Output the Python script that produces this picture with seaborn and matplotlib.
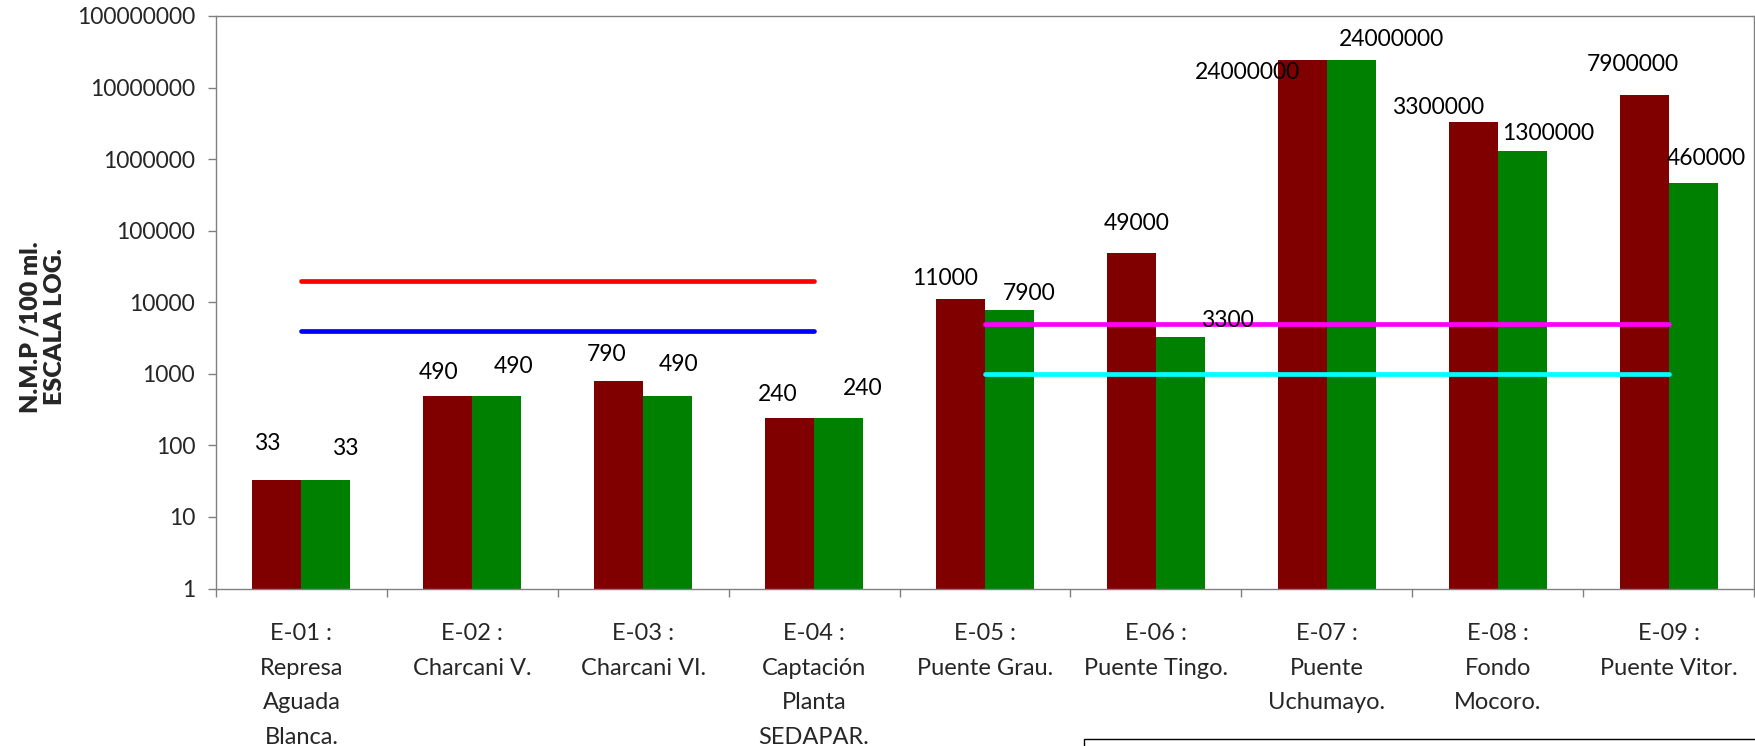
import numpy as np
import pandas as pd
import matplotlib
matplotlib.use("Agg")
import matplotlib.pyplot as plt
import seaborn as sns
from matplotlib.patches import Rectangle

# --- DATA ---
estaciones = ["E-01 :\nRepresa\nAguada\nBlanca.", "E-02 :\nCharcani V.", "E-03 :\nCharcani VI.",
              "E-04 :\nCaptación\nPlanta\nSEDAPAR.", "E-05 :\nPuente Grau.", "E-06 :\nPuente Tingo.",
              "E-07 :\nPuente\nUchumayo.", "E-08 :\nFondo\nMocoro.", "E-09 :\nPuente Vitor."]
serie_1 = [33, 490, 790, 240, 11000, 49000, 24000000, 3300000, 7900000]
serie_2 = [33, 490, 490, 240, 7900, 3300, 24000000, 1300000, 460000]
series = ["Serie 1", "Serie 2"]

# limit lines (first stretch E-01..E-04, second stretch E-05..E-09)
lim_rojo = [20000, 20000, 20000, 20000]
lim_azul = [4000, 4000, 4000, 4000]
lim_magenta = [5000, 5000, 5000, 5000, 5000]
lim_cian = [1000, 1000, 1000, 1000, 1000]

y_ticks = [1, 10, 100, 1000, 10000, 100000, 1000000, 10000000, 100000000]

# label offsets in pixels (dx, dy) from the top centre of each bar
off_1 = [(-10, 36), (-9, 23), (-12, 27), (-12, 24), (-15, 21), (5, 29), (-55, -12), (-35, 15), (-11, 30)]
off_2 = [(19, 31), (17, 29), (11, 31), (24, 30), (20, 16), (47, 16), (40, 21), (26, 17), (13, 25)]

df = pd.DataFrame({
    "Estacion": estaciones * 2,
    "NMP": serie_1 + serie_2,
    "Serie": [series[0]] * len(estaciones) + [series[1]] * len(estaciones),
})

# --- PLOT ---
sns.set_style("white")
plt.rcParams["font.family"] = ["Lato", "DejaVu Sans"]

W, H = 1755, 746
fig = plt.figure(figsize=(W / 100, H / 100), dpi=100)
ax = fig.add_axes([216 / W, 1 - 588.5 / H, 1538 / W, 572.5 / H])

sns.barplot(data=df, x="Estacion", y="NMP", hue="Serie", order=estaciones, hue_order=series,
            palette=["#800000", "#008000"], saturation=1, width=0.573, linewidth=0,
            errorbar=None, legend=False, ax=ax)
ax.set_yscale("log")
ax.set_ylim(1, 1e8)
ax.set_xlim(-0.5, len(estaciones) - 0.5)

# limit lines
x_all = np.arange(len(estaciones))
ax.plot(x_all[:4], lim_rojo, color="#FF0000", lw=3.4, solid_capstyle="round", zorder=3)
ax.plot(x_all[:4], lim_azul, color="#0000FF", lw=3.4, solid_capstyle="round", zorder=3)
ax.plot(x_all[4:], lim_magenta, color="#FF00FF", lw=3.4, solid_capstyle="round", zorder=3)
ax.plot(x_all[4:], lim_cian, color="#00FFFF", lw=3.4, solid_capstyle="round", zorder=3)

# data labels
half = 0.573 / 4
for i in range(len(estaciones)):
    for val, xo, off in [(serie_1[i], -half, off_1[i]), (serie_2[i], half, off_2[i])]:
        ax.annotate(str(val), (i + xo, val), xytext=off, textcoords="offset pixels",
                    ha="center", va="center", fontsize=16.5, color="black", zorder=4)

# axes styling
ax.set_yticks(y_ticks)
ax.set_yticklabels([str(t) for t in y_ticks])
ax.yaxis.set_minor_locator(matplotlib.ticker.NullLocator())
ax.tick_params(axis="y", which="major", direction="out", length=6, width=1, color="#808080",
               labelsize=16.5, pad=9, left=True)
ax.set_xticks(x_all)
ax.set_xticklabels(estaciones, linespacing=1.8)
ax.tick_params(axis="x", which="major", length=0, labelsize=17, pad=25)
ax.set_xticks(np.arange(len(estaciones) + 1) - 0.5, minor=True)
ax.tick_params(axis="x", which="minor", direction="out", length=5.5, width=1, color="#808080", bottom=True)
ax.set_xlabel("")
ax.set_ylabel("N.M.P /100 ml.\nESCALA LOG.", fontsize=18, fontweight="heavy", linespacing=1.15)
ax.yaxis.label.set_verticalalignment("center")
ax.yaxis.set_label_coords((43 - 216) / 1538, (588.5 - 327) / 572.5)

for s in ax.spines.values():
    s.set_visible(True)
    s.set_color("#808080")
    s.set_linewidth(1)
ax.grid(False)

# legend frame cut off at the bottom of the picture
fig.patches.append(Rectangle((1084 / W, -0.05), 0.5, 0.05 + (H - 739) / H,
                             transform=fig.transFigure, fill=False, edgecolor="black", lw=1))

plt.savefig("out.png", dpi=100)
plt.close()
